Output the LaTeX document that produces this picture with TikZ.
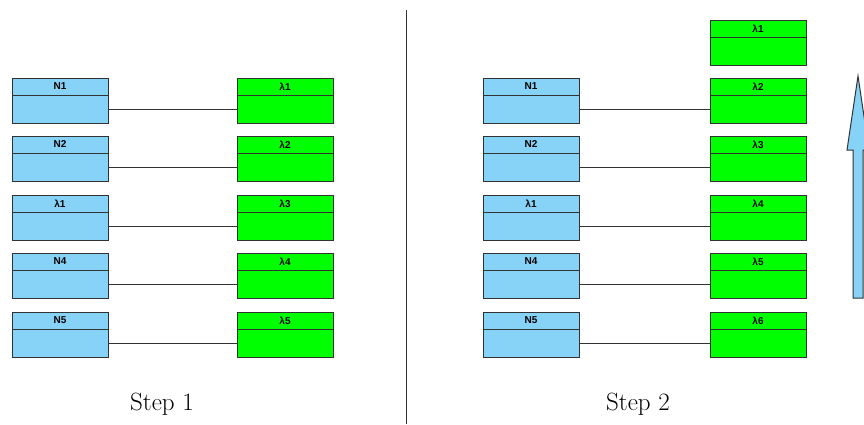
\documentclass[tikz,border=0pt]{standalone}
\usepackage{fontspec}
\setsansfont{Liberation Sans}
\usepackage{xcolor}
\usetikzlibrary{positioning}

\definecolor{nodeblue}{RGB}{135,210,247}
\definecolor{lamgreen}{RGB}{0,255,0}
\definecolor{boxline}{RGB}{50,50,50}

\begin{document}
\begin{tikzpicture}[
    x=1pt, y=-1pt,
    box/.style={draw=boxline, line width=1pt, minimum width=96pt,
                inner sep=0pt, outer sep=0pt},
    nhead/.style={box, fill=nodeblue, minimum height=17pt, anchor=north west,
                  font=\sffamily\bfseries\fontsize{10}{11}\selectfont},
    nbody/.style={box, fill=nodeblue, minimum height=28pt, below=0pt of #1},
    lhead/.style={nhead, fill=lamgreen},
    lbody/.style={nbody=#1, fill=lamgreen},
    link/.style={draw=boxline, line width=0.8pt},
    steplabel/.style={font=\fontsize{25}{28}\selectfont},
  ]
  \useasboundingbox (0,0) rectangle (864,424);

  % Step 1 --- nodes on the left, lambdas on the right
  \node[nhead] (s1n1t) at (12,78)  {N1};   \node[nbody=s1n1t] (s1n1) {};
  \node[nhead] (s1n2t) at (12,136) {N2};   \node[nbody=s1n2t] (s1n2) {};
  \node[nhead] (s1n3t) at (12,195) {λ1};   \node[nbody=s1n3t] (s1n3) {};
  \node[nhead] (s1n4t) at (12,253) {N4};   \node[nbody=s1n4t] (s1n4) {};
  \node[nhead] (s1n5t) at (12,312) {N5};   \node[nbody=s1n5t] (s1n5) {};

  \node[lhead] (s1l1t) at (237,78)  {λ1};  \node[lbody=s1l1t] (s1l1) {};
  \node[lhead] (s1l2t) at (237,136) {λ2};  \node[lbody=s1l2t] (s1l2) {};
  \node[lhead] (s1l3t) at (237,195) {λ3};  \node[lbody=s1l3t] (s1l3) {};
  \node[lhead] (s1l4t) at (237,253) {λ4};  \node[lbody=s1l4t] (s1l4) {};
  \node[lhead] (s1l5t) at (237,312) {λ5};  \node[lbody=s1l5t] (s1l5) {};

  \draw[link] (s1n1) -- (s1l1);
  \draw[link] (s1n2) -- (s1l2);
  \draw[link] (s1n3) -- (s1l3);
  \draw[link] (s1n4) -- (s1l4);
  \draw[link] (s1n5) -- (s1l5);

  \node[steplabel] (step1) at (162,404) {Step 1};

  % divider
  \coordinate (divtop) at (406,10);
  \coordinate (divbot) at (406,424);
  \draw[link] (divtop) -- (divbot);

  % Step 2 --- lambdas shifted one row up
  \node[nhead] (s2n1t) at (483,78)  {N1};  \node[nbody=s2n1t] (s2n1) {};
  \node[nhead] (s2n2t) at (483,136) {N2};  \node[nbody=s2n2t] (s2n2) {};
  \node[nhead] (s2n3t) at (483,195) {λ1};  \node[nbody=s2n3t] (s2n3) {};
  \node[nhead] (s2n4t) at (483,253) {N4};  \node[nbody=s2n4t] (s2n4) {};
  \node[nhead] (s2n5t) at (483,312) {N5};  \node[nbody=s2n5t] (s2n5) {};

  \node[lhead] (s2l1t) at (710,20)  {λ1};  \node[lbody=s2l1t] (s2l1) {};
  \node[lhead] (s2l2t) at (710,78)  {λ2};  \node[lbody=s2l2t] (s2l2) {};
  \node[lhead] (s2l3t) at (710,136) {λ3};  \node[lbody=s2l3t] (s2l3) {};
  \node[lhead] (s2l4t) at (710,195) {λ4};  \node[lbody=s2l4t] (s2l4) {};
  \node[lhead] (s2l5t) at (710,253) {λ5};  \node[lbody=s2l5t] (s2l5) {};
  \node[lhead] (s2l6t) at (710,312) {λ6};  \node[lbody=s2l6t] (s2l6) {};

  \draw[link] (s2n1) -- (s2l2);
  \draw[link] (s2n2) -- (s2l3);
  \draw[link] (s2n3) -- (s2l4);
  \draw[link] (s2n4) -- (s2l5);
  \draw[link] (s2n5) -- (s2l6);

  \node[steplabel] (step2) at (638,404) {Step 2};

  % upward block arrow, cut off at the right edge
  \begin{scope}
    \clip (0,0) rectangle (864,424);
    \draw[draw=boxline, line width=1pt, fill=nodeblue]
      (858,76) -- (847,150) -- (853,150) -- (853,298)
      -- (863,298) -- (863,150) -- (869,150) -- cycle;
  \end{scope}
\end{tikzpicture}
\end{document}
